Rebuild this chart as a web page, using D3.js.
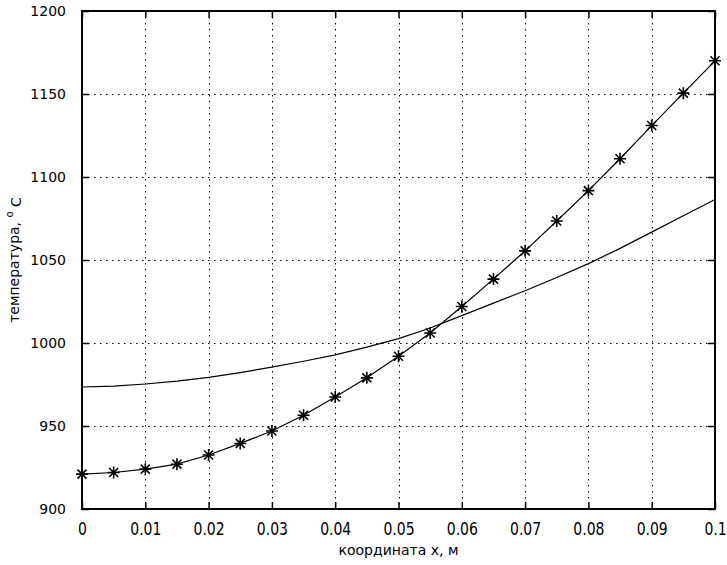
<!DOCTYPE html>
<html>
<head>
  <meta charset="utf-8" />
  <title>температура</title>
  <style type="text/css">
    body { margin: 0; background: #fff; }
    text { font-family: 'DejaVu Sans', sans-serif; fill: #000; }
  </style>
</head>
<body>
  <div id="graph"></div>
  <script src="https://cdn.jsdelivr.net/npm/d3@7"></script>
  <script>
// data
var xs = [0, 0.005, 0.01, 0.015, 0.02, 0.025, 0.03, 0.035, 0.04, 0.045, 0.05,
          0.055, 0.06, 0.065, 0.07, 0.075, 0.08, 0.085, 0.09, 0.095, 0.1];
var tempStar = [921, 922, 924, 927, 932.5, 939.5, 947, 956.5, 967.5, 979, 992,
                1006, 1022, 1038.5, 1055.5, 1073.5, 1091.8, 1111, 1131, 1150.5, 1170];
var tempSmooth = [973.5, 974, 975.3, 977, 979.3, 982.2, 985.5, 989, 992.8, 997.5, 1002.6,
                  1009, 1016.5, 1024, 1031.5, 1039.5, 1047.8, 1057, 1066.8, 1076.7, 1086.5];
var xTicks = [0, 0.01, 0.02, 0.03, 0.04, 0.05, 0.06, 0.07, 0.08, 0.09, 0.1];
var yTicks = [900, 950, 1000, 1050, 1100, 1150, 1200];

// set the dimensions and margins of the graph
var margin = {top: 11, right: 12, bottom: 56, left: 82},
    width = 727 - margin.left - margin.right,
    height = 565 - margin.top - margin.bottom;

var x = d3.scaleLinear().domain([0, 0.1]).range([0, width]);
var y = d3.scaleLinear().domain([900, 1200]).range([height, 0]);

var root = d3.select("#graph").append("svg")
    .attr("width", 727)
    .attr("height", 565);
root.append("rect").attr("width", 727).attr("height", 565).attr("fill", "#fff");

var svg = root.append("g")
    .attr("transform", "translate(" + margin.left + "," + margin.top + ")");

// grid (dotted, like matlab)
svg.append("g")
  .selectAll("line")
  .data(xTicks.slice(1, -1))
  .enter().append("line")
    .attr("x1", function(d) { return Math.round(x(d)) + 0.5; })
    .attr("x2", function(d) { return Math.round(x(d)) + 0.5; })
    .attr("y1", 0).attr("y2", height)
    .attr("stroke", "#000").attr("stroke-dasharray", "1.5,4.5");
svg.append("g")
  .selectAll("line")
  .data(yTicks.slice(1, -1))
  .enter().append("line")
    .attr("y1", function(d) { return Math.round(y(d)) + 0.5; })
    .attr("y2", function(d) { return Math.round(y(d)) + 0.5; })
    .attr("x1", 0).attr("x2", width)
    .attr("stroke", "#000").attr("stroke-dasharray", "1.5,4.5");

// axes, ticks pointing inward on all four sides
var fmtX = function(d) { return d === 0 ? "0" : String(+d.toFixed(2)); };
var axBottom = svg.append("g")
    .attr("transform", "translate(0," + height + ")")
    .call(d3.axisBottom(x).tickValues(xTicks).tickSize(-7).tickPadding(12).tickFormat(fmtX));
var axTop = svg.append("g")
    .call(d3.axisTop(x).tickValues(xTicks).tickSize(-7).tickFormat(""));
var axLeft = svg.append("g")
    .call(d3.axisLeft(y).tickValues(yTicks).tickSize(-7).tickPadding(16).tickFormat(d3.format("d")));
var axRight = svg.append("g")
    .attr("transform", "translate(" + width + ",0)")
    .call(d3.axisRight(y).tickValues(yTicks).tickSize(-7).tickFormat(""));

[axBottom, axTop, axLeft, axRight].forEach(function(a) {
  a.select(".domain").remove();
  a.selectAll(".tick line").attr("stroke", "#000").attr("stroke-width", 1.5);
  a.selectAll("text").style("font-size", "14px").attr("fill", "#000");
});
axBottom.selectAll("text").attr("transform", "scale(1,1.2)");

// box
svg.append("rect")
    .attr("width", width).attr("height", height)
    .attr("fill", "none").attr("stroke", "#000").attr("stroke-width", 2);

// curves
var line = d3.line()
    .x(function(d, i) { return x(xs[i]); })
    .y(function(d) { return y(d); });

svg.append("path").datum(tempSmooth)
    .attr("fill", "none").attr("stroke", "#000").attr("stroke-width", 1.2)
    .attr("d", line);
svg.append("path").datum(tempStar)
    .attr("fill", "none").attr("stroke", "#000").attr("stroke-width", 1.2)
    .attr("d", line);

// star markers
var s = 6, k = 4.5;
svg.append("g")
  .selectAll("path")
  .data(tempStar)
  .enter().append("path")
    .attr("transform", function(d, i) { return "translate(" + x(xs[i]) + "," + y(d) + ")"; })
    .attr("d", "M" + (-s) + ",0L" + s + ",0M0," + (-s) + "L0," + s +
               "M" + (-k) + "," + (-k) + "L" + k + "," + k +
               "M" + (-k) + "," + k + "L" + k + "," + (-k))
    .attr("stroke", "#000").attr("stroke-width", 1.6).attr("fill", "none");

// axis labels
root.append("text")
    .attr("x", margin.left + width / 2)
    .attr("y", 555)
    .attr("text-anchor", "middle")
    .style("font-size", "14px")
    .text("координата x, м");

var yl = root.append("text")
    .attr("transform", "translate(19," + (margin.top + height / 2) + ") rotate(-90)")
    .attr("text-anchor", "middle")
    .style("font-size", "14px");
yl.append("tspan").text("температура, ");
yl.append("tspan").attr("dy", "-0.6em").style("font-size", "10px").text("o");
yl.append("tspan").attr("dy", "0.6em").text(" C");
  </script>
</body>
</html>
